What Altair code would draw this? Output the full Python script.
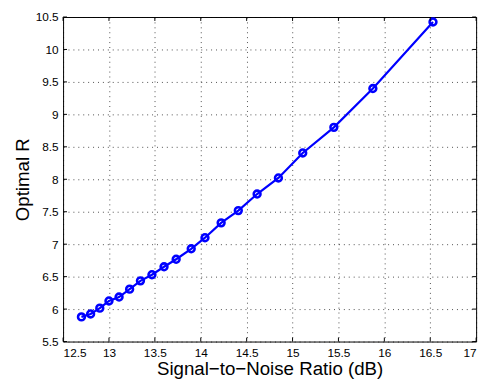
import altair as alt
import pandas as pd

snr = [12.70, 12.80, 12.90, 13.00, 13.11, 13.225, 13.343, 13.468, 13.60, 13.732,
       13.896, 14.046, 14.222, 14.409, 14.614, 14.846, 15.111, 15.45, 15.875, 16.53]
opt_r = [5.88, 5.925, 6.015, 6.125, 6.186, 6.307, 6.435, 6.53, 6.652, 6.768,
         6.929, 7.10, 7.329, 7.518, 7.773, 8.02, 8.405, 8.80, 9.398, 10.424]
x_ticks = [12.5, 13, 13.5, 14, 14.5, 15, 15.5, 16, 16.5, 17]
y_ticks = [5.5, 6, 6.5, 7, 7.5, 8, 8.5, 9, 9.5, 10, 10.5]

W, H = 420, 330
df = pd.DataFrame({"snr": snr, "r": opt_r})
xt = pd.DataFrame({"t": x_ticks})
yt = pd.DataFrame({"t": y_ticks})

xscale = alt.Scale(domain=[12.5, 17], nice=False, zero=False)
yscale = alt.Scale(domain=[5.5, 10.5], nice=False, zero=False)
FONT = "Liberation Sans"
XT = "Signal\u2212to\u2212Noise Ratio (dB)"
YT = "Optimal R"

common = dict(grid=True, gridDash=[1, 4], gridColor="#000", gridOpacity=0.7,
              tickSize=0, domain=False, labelFontSize=12, labelOverlap=False,
              format="~g",
              labelColor="#000", labelFont=FONT, titleFont=FONT, titleFontSize=19,
              titleFontWeight="normal", titleColor="#000")
xaxis = alt.Axis(values=x_ticks, title=XT, labelPadding=6, titlePadding=2, **common)
yaxis = alt.Axis(values=y_ticks, title=YT, labelPadding=5, titlePadding=3, **common)

def X(f):
    return alt.X(f, scale=xscale, axis=xaxis, title=XT)

def Y(f):
    return alt.Y(f, scale=yscale, axis=yaxis, title=YT)

base = alt.Chart(df)
line = base.mark_line(color="#0000ff", strokeWidth=2.2).encode(x=X("snr:Q"), y=Y("r:Q"))
pts = base.mark_point(shape="circle", filled=False, color="#0000ff", size=48,
                      strokeWidth=2.6, opacity=1).encode(x=X("snr:Q"), y=Y("r:Q"))

tk = 4
xb = alt.Chart(xt).mark_rule(color="#000", strokeWidth=1).encode(
    x=X("t:Q"), y=alt.value(H), y2=alt.value(H - tk))
xtop = alt.Chart(xt).mark_rule(color="#000", strokeWidth=1).encode(
    x=X("t:Q"), y=alt.value(0), y2=alt.value(tk))
yl = alt.Chart(yt).mark_rule(color="#000", strokeWidth=1).encode(
    y=Y("t:Q"), x=alt.value(0), x2=alt.value(tk))
yr = alt.Chart(yt).mark_rule(color="#000", strokeWidth=1).encode(
    y=Y("t:Q"), x=alt.value(W), x2=alt.value(W - tk))

chart = alt.layer(line, pts, xb, xtop, yl, yr).properties(
    width=W, height=H,
    autosize=alt.AutoSizeParams(type="none"),
    padding={"left": 56, "top": 6, "right": 8, "bottom": 40},
    background="white",
).configure_view(stroke="#000", strokeWidth=1)

chart.save("out.html", embed_options={"renderer": "svg", "actions": False})
